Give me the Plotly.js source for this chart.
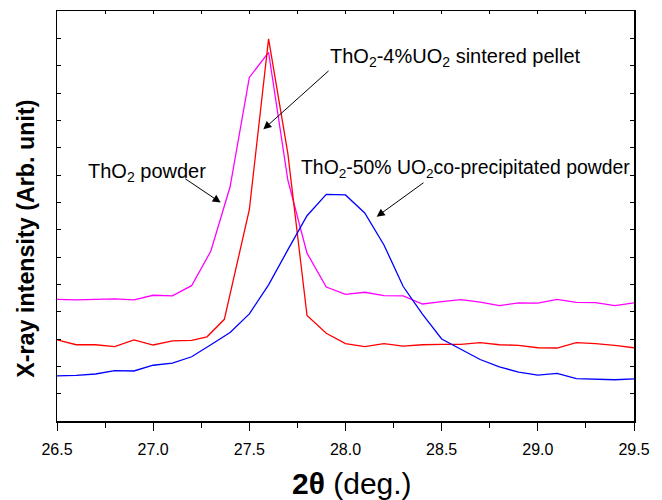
<!DOCTYPE html>
<html>
<head>
<meta charset="utf-8">
<script src="https://cdn.plot.ly/plotly-3.0.1.min.js"></script>
<style>html,body{margin:0;padding:0;background:#fff;}#chart{width:662px;height:500px;}</style>
</head>
<body>
<div id="chart"></div>
<script>
// 2θ positions (deg.)
const thetaGrid = [26.5,26.6,26.7,26.8,26.9,27.0,27.1,27.2,27.3,27.4,27.5,27.6,27.7,27.8,27.9,28.0,28.1,28.2,28.3,28.4,28.5,28.6,28.7,28.8,28.9,29.0,29.1,29.2,29.3,29.4,29.5];
const thetaPellet = [26.5,26.6,26.7,26.8,26.9,27.0,27.1,27.2,27.28,27.37,27.5,27.6,27.7,27.8,27.9,28.0,28.1,28.2,28.3,28.4,28.5,28.6,28.7,28.8,28.9,29.0,29.1,29.2,29.3,29.4,29.5];

// ThO2 powder (magenta)
const powderI = [4.45,4.43,4.45,4.47,4.43,4.60,4.58,4.95,6.22,8.57,12.57,13.49,8.82,6.14,4.90,4.63,4.71,4.59,4.58,4.28,4.37,4.44,4.35,4.22,4.32,4.31,4.45,4.34,4.33,4.22,4.32];
// ThO2-4%UO2 sintered pellet (red)
const pelletI = [2.97,2.79,2.79,2.72,2.97,2.78,2.93,2.95,3.08,3.72,7.73,13.98,9.80,3.86,3.21,2.83,2.72,2.83,2.74,2.79,2.80,2.80,2.87,2.79,2.77,2.68,2.67,2.87,2.83,2.77,2.68];
// ThO2-50% UO2 co-precipitated powder (blue)
const coprecipI = [1.65,1.67,1.72,1.84,1.83,2.04,2.12,2.35,2.79,3.24,3.92,4.98,6.26,7.51,8.29,8.27,7.61,6.44,4.92,3.91,3.00,2.63,2.25,1.98,1.79,1.68,1.74,1.55,1.54,1.51,1.54];

const xTickVals = [26.5,27.0,27.5,28.0,28.5,29.0,29.5];
const xTickText = ['26.5','27.0','27.5','28.0','28.5','29.0','29.5'];

const FONT = 'Liberation Sans, Arial, Helvetica, sans-serif';

const traces = [
  {x: thetaGrid, y: powderI, mode: 'lines', line: {color: '#ff00ff', width: 1.3}, name: 'ThO2 powder'},
  {x: thetaPellet, y: pelletI, mode: 'lines', line: {color: '#ff0000', width: 1.3}, name: 'ThO2-4%UO2 sintered pellet'},
  {x: thetaGrid, y: coprecipI, mode: 'lines', line: {color: '#0000ff', width: 1.3}, name: 'ThO2-50% UO2 co-precipitated powder'},
  {x: [], y: [], xaxis: 'x2', yaxis: 'y', mode: 'lines', showlegend: false, hoverinfo: 'skip'}
];

const arrowStyle = {text: '', showarrow: true, arrowhead: 2, arrowsize: 1.6, arrowwidth: 1, arrowcolor: '#000', xref: 'x', yref: 'y', axref: 'pixel', ayref: 'pixel'};

const layout = {
  width: 662, height: 500,
  margin: {l: 57, r: 28, t: 11, b: 79},
  paper_bgcolor: '#fff', plot_bgcolor: '#fff',
  showlegend: false,
  font: {family: FONT, color: '#000'},
  xaxis: {
    range: [26.5, 29.5], showgrid: false, zeroline: false,
    showline: true, linecolor: '#000', linewidth: 1.5, mirror: true,
    ticks: 'outside', ticklen: 8, tickwidth: 1, tickcolor: '#000',
    tickvals: xTickVals, ticktext: xTickText,
    ticklabelstandoff: 5,
    tickfont: {family: FONT, size: 16, color: '#000'},
    minor: {dtick: 0.25, ticks: 'outside', ticklen: 5, tickcolor: '#000', tickwidth: 1, showgrid: false},
    title: {text: ''}
  },
  xaxis2: {
    range: [26.5, 29.5], overlaying: 'x', side: 'top', anchor: 'y',
    showgrid: false, zeroline: false, showline: false,
    ticks: 'inside', dtick: 0.25, tick0: 26.5, ticklen: 3, tickcolor: '#000', tickwidth: 1,
    showticklabels: false
  },
  yaxis: {
    range: [0, 15], showgrid: false, zeroline: false,
    showline: true, linecolor: '#000', linewidth: 1.5, mirror: 'ticks',
    ticks: 'inside', dtick: 1, tick0: 0, ticklen: 4, tickcolor: '#000', tickwidth: 1,
    showticklabels: false,
    title: {text: ''}
  },
  annotations: [
    {text: 'ThO<sub>2</sub>-4%UO<sub>2</sub> sintered pellet', x: 27.909, y: 13.3, xref: 'x', yref: 'y', xanchor: 'left', yanchor: 'middle', showarrow: false, font: {family: FONT, size: 20, color: '#000'}},
    {text: 'ThO<sub>2</sub> powder', x: 26.651, y: 9.1, xref: 'x', yref: 'y', xanchor: 'left', yanchor: 'middle', showarrow: false, font: {family: FONT, size: 20, color: '#000'}},
    {text: 'ThO<sub>2</sub>-50% UO<sub>2</sub>co-precipitated powder', x: 27.756, y: 9.25, xref: 'x', yref: 'y', xanchor: 'left', yanchor: 'middle', showarrow: false, font: {family: FONT, size: 19.4, color: '#000'}},
    Object.assign({x: 27.573, y: 10.67, ax: 66.7, ay: -59.8}, arrowStyle),
    Object.assign({x: 27.351, y: 7.99, ax: -36.7, ay: -24.7}, arrowStyle),
    Object.assign({x: 28.162, y: 7.475, ax: 48.3, ay: -35}, arrowStyle),
    {text: '<b>2θ</b> (deg.)', xref: 'paper', yref: 'paper', x: 0.511, y: -0.153, xanchor: 'center', yanchor: 'middle', showarrow: false, font: {family: FONT, size: 30, color: '#000'}},
    {text: '<b>X-ray intensity (Arb. unit)</b>', xref: 'paper', yref: 'paper', x: -0.055, y: 0.445, xanchor: 'center', yanchor: 'middle', textangle: -90, showarrow: false, font: {family: FONT, size: 23.3, color: '#000'}}
  ]
};

Plotly.newPlot('chart', traces, layout, {displayModeBar: false, staticPlot: true});
</script>
</body>
</html>
